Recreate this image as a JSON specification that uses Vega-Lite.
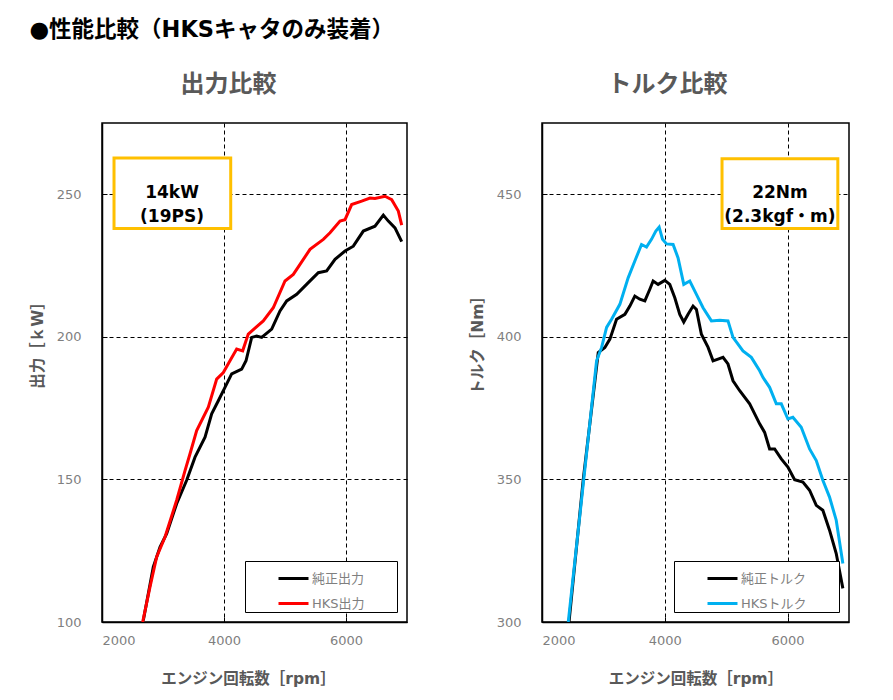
{
  "$schema": "https://vega.github.io/schema/vega-lite/v6.json",
  "background": "white",
  "padding": {"left": 29, "top": 18, "right": 10, "bottom": 5},
  "title": {"text": "●性能比較（HKSキャタのみ装着）", "anchor": "start", "frame": "bounds", "fontSize": 22.5, "fontWeight": "bold", "color": "#000000", "font": "DejaVu Sans, Noto Sans CJK JP", "offset": 31},
  "config": {
    "font": "DejaVu Sans, Noto Sans CJK JP",
    "view": {"stroke": "#000000", "strokeWidth": 1.5},
    "axis": {
      "grid": true, "gridColor": "#000000", "gridDash": [4, 3], "gridWidth": 1,
      "domainColor": "#000000", "domainWidth": 1.5,
      "tickColor": "#000000", "tickSize": -5, "format": "d",
      "labelColor": "#7f7f7f", "labelFontSize": 13, "labelFont": "DejaVu Sans",
      "titleColor": "#595959", "titleFontSize": 15.5, "titleFontWeight": "bold"
    },
    "axisX": {"labelPadding": 17, "titlePadding": 24},
    "axisY": {"labelPadding": 26, "titlePadding": 11, "titleY": 218},
    "legend": {
      "orient": "bottom-right", "offset": 10, "strokeColor": "#000000", "fillColor": "white",
      "padding": 1, "rowPadding": 1, "symbolType": "stroke", "symbolStrokeWidth": 3, "symbolSize": 900,
      "symbolOffset": 31, "labelFontSize": 13, "labelColor": "#7f7f7f", "labelOffset": 2,
      "titleOrient": "right", "titleOpacity": 0, "titleFontSize": 13, "titlePadding": 14
    },
    "title": {"fontSize": 24, "fontWeight": "bold", "color": "#595959", "anchor": "middle", "frame": "bounds", "offset": 26}
  },
  "datasets": {
    "power": [
      {"rpm": 2677, "val": 100.5, "s": "純正出力"},
      {"rpm": 2841, "val": 119.3, "s": "純正出力"},
      {"rpm": 2951, "val": 126.3, "s": "純正出力"},
      {"rpm": 3060, "val": 131, "s": "純正出力"},
      {"rpm": 3224, "val": 141.5, "s": "純正出力"},
      {"rpm": 3388, "val": 149.7, "s": "純正出力"},
      {"rpm": 3525, "val": 157.8, "s": "純正出力"},
      {"rpm": 3689, "val": 164.8, "s": "純正出力"},
      {"rpm": 3798, "val": 173, "s": "純正出力"},
      {"rpm": 3907, "val": 177.6, "s": "純正出力"},
      {"rpm": 4016, "val": 182.3, "s": "純正出力"},
      {"rpm": 4126, "val": 187, "s": "純正出力"},
      {"rpm": 4290, "val": 188.7, "s": "純正出力"},
      {"rpm": 4361, "val": 191.6, "s": "純正出力"},
      {"rpm": 4454, "val": 199.8, "s": "純正出力"},
      {"rpm": 4536, "val": 200.3, "s": "純正出力"},
      {"rpm": 4618, "val": 199.8, "s": "純正出力"},
      {"rpm": 4782, "val": 202.7, "s": "純正出力"},
      {"rpm": 4918, "val": 209.1, "s": "純正出力"},
      {"rpm": 5028, "val": 212.6, "s": "純正出力"},
      {"rpm": 5192, "val": 214.9, "s": "純正出力"},
      {"rpm": 5382, "val": 219, "s": "純正出力"},
      {"rpm": 5546, "val": 222.5, "s": "純正出力"},
      {"rpm": 5683, "val": 223.1, "s": "純正出力"},
      {"rpm": 5820, "val": 227.2, "s": "純正出力"},
      {"rpm": 5984, "val": 230.1, "s": "純正出力"},
      {"rpm": 6120, "val": 231.8, "s": "純正出力"},
      {"rpm": 6284, "val": 237.1, "s": "純正出力"},
      {"rpm": 6475, "val": 238.8, "s": "純正出力"},
      {"rpm": 6612, "val": 242.7, "s": "純正出力"},
      {"rpm": 6694, "val": 240.6, "s": "純正出力"},
      {"rpm": 6803, "val": 238.2, "s": "純正出力"},
      {"rpm": 6913, "val": 233.4, "s": "純正出力"},
      {"rpm": 2667, "val": 100, "s": "HKS出力"},
      {"rpm": 2787, "val": 112.3, "s": "HKS出力"},
      {"rpm": 2896, "val": 122.8, "s": "HKS出力"},
      {"rpm": 3033, "val": 129.8, "s": "HKS出力"},
      {"rpm": 3224, "val": 142.7, "s": "HKS出力"},
      {"rpm": 3361, "val": 153.1, "s": "HKS出力"},
      {"rpm": 3443, "val": 159, "s": "HKS出力"},
      {"rpm": 3552, "val": 167.1, "s": "HKS出力"},
      {"rpm": 3743, "val": 175.3, "s": "HKS出力"},
      {"rpm": 3880, "val": 185.2, "s": "HKS出力"},
      {"rpm": 3989, "val": 187.5, "s": "HKS出力"},
      {"rpm": 4098, "val": 191.6, "s": "HKS出力"},
      {"rpm": 4208, "val": 195.7, "s": "HKS出力"},
      {"rpm": 4306, "val": 195.1, "s": "HKS出力"},
      {"rpm": 4398, "val": 201, "s": "HKS出力"},
      {"rpm": 4644, "val": 205.6, "s": "HKS出力"},
      {"rpm": 4808, "val": 210.2, "s": "HKS出力"},
      {"rpm": 5000, "val": 219.6, "s": "HKS出力"},
      {"rpm": 5136, "val": 221.9, "s": "HKS出力"},
      {"rpm": 5246, "val": 225.4, "s": "HKS出力"},
      {"rpm": 5410, "val": 230.7, "s": "HKS出力"},
      {"rpm": 5628, "val": 234.2, "s": "HKS出力"},
      {"rpm": 5738, "val": 236.5, "s": "HKS出力"},
      {"rpm": 5902, "val": 240.6, "s": "HKS出力"},
      {"rpm": 5984, "val": 241.1, "s": "HKS出力"},
      {"rpm": 6093, "val": 246.4, "s": "HKS出力"},
      {"rpm": 6257, "val": 247.6, "s": "HKS出力"},
      {"rpm": 6393, "val": 248.7, "s": "HKS出力"},
      {"rpm": 6475, "val": 248.5, "s": "HKS出力"},
      {"rpm": 6639, "val": 249.3, "s": "HKS出力"},
      {"rpm": 6749, "val": 248.1, "s": "HKS出力"},
      {"rpm": 6858, "val": 244.1, "s": "HKS出力"},
      {"rpm": 6913, "val": 239.2, "s": "HKS出力"}
    ],
    "torque": [
      {"rpm": 2440, "val": 300, "s": "純正トルク"},
      {"rpm": 2672, "val": 350, "s": "純正トルク"},
      {"rpm": 2862, "val": 384.6, "s": "純正トルク"},
      {"rpm": 2916, "val": 394.5, "s": "純正トルク"},
      {"rpm": 3024, "val": 396.3, "s": "純正トルク"},
      {"rpm": 3106, "val": 399.2, "s": "純正トルク"},
      {"rpm": 3214, "val": 406.2, "s": "純正トルク"},
      {"rpm": 3350, "val": 407.9, "s": "純正トルク"},
      {"rpm": 3431, "val": 410.8, "s": "純正トルク"},
      {"rpm": 3512, "val": 414.3, "s": "純正トルク"},
      {"rpm": 3593, "val": 413.2, "s": "純正トルク"},
      {"rpm": 3675, "val": 412.6, "s": "純正トルク"},
      {"rpm": 3756, "val": 416.7, "s": "純正トルク"},
      {"rpm": 3810, "val": 419.6, "s": "純正トルク"},
      {"rpm": 3891, "val": 418.4, "s": "純正トルク"},
      {"rpm": 4000, "val": 419.8, "s": "純正トルク"},
      {"rpm": 4081, "val": 418.4, "s": "純正トルク"},
      {"rpm": 4163, "val": 413.7, "s": "純正トルク"},
      {"rpm": 4244, "val": 407.9, "s": "純正トルク"},
      {"rpm": 4309, "val": 405.2, "s": "純正トルク"},
      {"rpm": 4379, "val": 407.9, "s": "純正トルク"},
      {"rpm": 4460, "val": 410.8, "s": "純正トルク"},
      {"rpm": 4515, "val": 409.6, "s": "純正トルク"},
      {"rpm": 4596, "val": 400.9, "s": "純正トルク"},
      {"rpm": 4705, "val": 396.3, "s": "純正トルク"},
      {"rpm": 4786, "val": 391.6, "s": "純正トルク"},
      {"rpm": 4867, "val": 392.2, "s": "純正トルク"},
      {"rpm": 4948, "val": 392.8, "s": "純正トルク"},
      {"rpm": 5029, "val": 390.5, "s": "純正トルク"},
      {"rpm": 5111, "val": 384.6, "s": "純正トルク"},
      {"rpm": 5220, "val": 381.1, "s": "純正トルク"},
      {"rpm": 5382, "val": 376.5, "s": "純正トルク"},
      {"rpm": 5545, "val": 369.5, "s": "純正トルク"},
      {"rpm": 5626, "val": 366.5, "s": "純正トルク"},
      {"rpm": 5707, "val": 360.7, "s": "純正トルク"},
      {"rpm": 5789, "val": 360.7, "s": "純正トルク"},
      {"rpm": 5897, "val": 357.2, "s": "純正トルク"},
      {"rpm": 6005, "val": 354.3, "s": "純正トルク"},
      {"rpm": 6114, "val": 349.9, "s": "純正トルク"},
      {"rpm": 6249, "val": 349.1, "s": "純正トルク"},
      {"rpm": 6358, "val": 346.2, "s": "純正トルク"},
      {"rpm": 6467, "val": 340.9, "s": "純正トルク"},
      {"rpm": 6574, "val": 339.2, "s": "純正トルク"},
      {"rpm": 6683, "val": 332.2, "s": "純正トルク"},
      {"rpm": 6792, "val": 324, "s": "純正トルク"},
      {"rpm": 6900, "val": 311.8, "s": "純正トルク"},
      {"rpm": 2428, "val": 300, "s": "HKSトルク"},
      {"rpm": 2680, "val": 350, "s": "HKSトルク"},
      {"rpm": 2889, "val": 391.6, "s": "HKSトルク"},
      {"rpm": 2971, "val": 396.3, "s": "HKSトルク"},
      {"rpm": 3052, "val": 403.3, "s": "HKSトルク"},
      {"rpm": 3133, "val": 406.2, "s": "HKSトルク"},
      {"rpm": 3268, "val": 411.4, "s": "HKSトルク"},
      {"rpm": 3403, "val": 420.7, "s": "HKSトルク"},
      {"rpm": 3512, "val": 426.6, "s": "HKSトルク"},
      {"rpm": 3621, "val": 432.4, "s": "HKSトルク"},
      {"rpm": 3702, "val": 431.5, "s": "HKSトルク"},
      {"rpm": 3783, "val": 434.2, "s": "HKSトルク"},
      {"rpm": 3854, "val": 437.1, "s": "HKSトルク"},
      {"rpm": 3908, "val": 438.5, "s": "HKSトルク"},
      {"rpm": 3963, "val": 434.2, "s": "HKSトルク"},
      {"rpm": 4028, "val": 432.6, "s": "HKSトルク"},
      {"rpm": 4135, "val": 432.4, "s": "HKSトルク"},
      {"rpm": 4216, "val": 427.7, "s": "HKSトルク"},
      {"rpm": 4309, "val": 418.4, "s": "HKSトルク"},
      {"rpm": 4407, "val": 419.6, "s": "HKSトルク"},
      {"rpm": 4515, "val": 414.9, "s": "HKSトルク"},
      {"rpm": 4623, "val": 410.2, "s": "HKSトルク"},
      {"rpm": 4759, "val": 405.6, "s": "HKSトルク"},
      {"rpm": 4894, "val": 405.8, "s": "HKSトルク"},
      {"rpm": 5029, "val": 405.6, "s": "HKSトルク"},
      {"rpm": 5111, "val": 399.8, "s": "HKSトルク"},
      {"rpm": 5273, "val": 395.1, "s": "HKSトルク"},
      {"rpm": 5409, "val": 392.8, "s": "HKSトルク"},
      {"rpm": 5545, "val": 388.1, "s": "HKSトルク"},
      {"rpm": 5598, "val": 385.8, "s": "HKSトルク"},
      {"rpm": 5707, "val": 382.3, "s": "HKSトルク"},
      {"rpm": 5816, "val": 376.5, "s": "HKSトルク"},
      {"rpm": 5897, "val": 376.5, "s": "HKSトルク"},
      {"rpm": 6005, "val": 371.2, "s": "HKSトルク"},
      {"rpm": 6086, "val": 371.8, "s": "HKSトルク"},
      {"rpm": 6222, "val": 368.3, "s": "HKSトルク"},
      {"rpm": 6358, "val": 360.7, "s": "HKSトルク"},
      {"rpm": 6467, "val": 356.6, "s": "HKSトルク"},
      {"rpm": 6574, "val": 349.7, "s": "HKSトルク"},
      {"rpm": 6683, "val": 343.8, "s": "HKSトルク"},
      {"rpm": 6792, "val": 335.7, "s": "HKSトルク"},
      {"rpm": 6900, "val": 320.5, "s": "HKSトルク"}
    ],
    "powerNote": [{"x1": 2197, "x2": 4110, "y1": 238.0, "y2": 262.7, "xc": 3148, "yc": 250.4, "label": "14kW\n(19PS)"}],
    "torqueNote": [{"x1": 4932, "x2": 6818, "y1": 438.0, "y2": 462.5, "xc": 5875, "yc": 450.3, "label": "22Nm\n(2.3kgf・m)"}]
  },
  "resolve": {"scale": {"color": "independent", "x": "independent", "y": "independent"}, "legend": {"color": "independent"}},
  "spacing": 61,
  "hconcat": [
    {
      "title": {"text": "出力比較", "dx": 10},
      "width": 305,
      "height": 499,
      "layer": [
        {
          "data": {"name": "power"},
          "mark": {"type": "line", "strokeWidth": 3, "clip": true},
          "encoding": {
            "x": {"field": "rpm", "type": "quantitative", "scale": {"domain": [2000, 7000], "nice": false}, "axis": {"values": [2000, 4000, 6000], "title": "エンジン回転数［rpm］", "titleX": 146}},
            "y": {"field": "val", "type": "quantitative", "scale": {"domain": [100, 275], "nice": false, "zero": false}, "axis": {"values": [100, 150, 200, 250], "title": "出力［ｋW］"}},
            "color": {"field": "s", "type": "nominal", "scale": {"domain": ["純正出力", "HKS出力"], "range": ["#000000", "#FF0000"]}, "legend": {"title": "xx"}}
          }
        },
        {
          "data": {"name": "powerNote"},
          "mark": {"type": "rect", "fill": "white", "stroke": "#FFC000", "strokeWidth": 3},
          "encoding": {
            "x": {"field": "x1", "type": "quantitative"},
            "x2": {"field": "x2"},
            "y": {"field": "y1", "type": "quantitative"},
            "y2": {"field": "y2"}
          }
        },
        {
          "data": {"name": "powerNote"},
          "mark": {"type": "text", "fontSize": 17, "fontWeight": "bold", "color": "#000000", "lineBreak": "\n", "lineHeight": 24, "align": "center", "baseline": "middle"},
          "encoding": {
            "x": {"field": "xc", "type": "quantitative"},
            "y": {"field": "yc", "type": "quantitative"},
            "text": {"field": "label"}
          }
        }
      ]
    },
    {
      "title": {"text": "トルク比較", "dx": 8},
      "width": 307,
      "height": 499,
      "layer": [
        {
          "data": {"name": "torque"},
          "mark": {"type": "line", "strokeWidth": 3, "clip": true},
          "encoding": {
            "x": {"field": "rpm", "type": "quantitative", "scale": {"domain": [2000, 7000], "nice": false}, "axis": {"values": [2000, 4000, 6000], "title": "エンジン回転数［rpm］"}},
            "y": {"field": "val", "type": "quantitative", "scale": {"domain": [300, 475], "nice": false, "zero": false}, "axis": {"values": [300, 350, 400, 450], "title": "トルク［Nm］"}},
            "color": {"field": "s", "type": "nominal", "scale": {"domain": ["純正トルク", "HKSトルク"], "range": ["#000000", "#00B0F0"]}, "legend": {"title": "xx"}}
          }
        },
        {
          "data": {"name": "torqueNote"},
          "mark": {"type": "rect", "fill": "white", "stroke": "#FFC000", "strokeWidth": 3},
          "encoding": {
            "x": {"field": "x1", "type": "quantitative"},
            "x2": {"field": "x2"},
            "y": {"field": "y1", "type": "quantitative"},
            "y2": {"field": "y2"}
          }
        },
        {
          "data": {"name": "torqueNote"},
          "mark": {"type": "text", "fontSize": 17, "fontWeight": "bold", "color": "#000000", "lineBreak": "\n", "lineHeight": 24, "align": "center", "baseline": "middle"},
          "encoding": {
            "x": {"field": "xc", "type": "quantitative"},
            "y": {"field": "yc", "type": "quantitative"},
            "text": {"field": "label"}
          }
        }
      ]
    }
  ]
}
